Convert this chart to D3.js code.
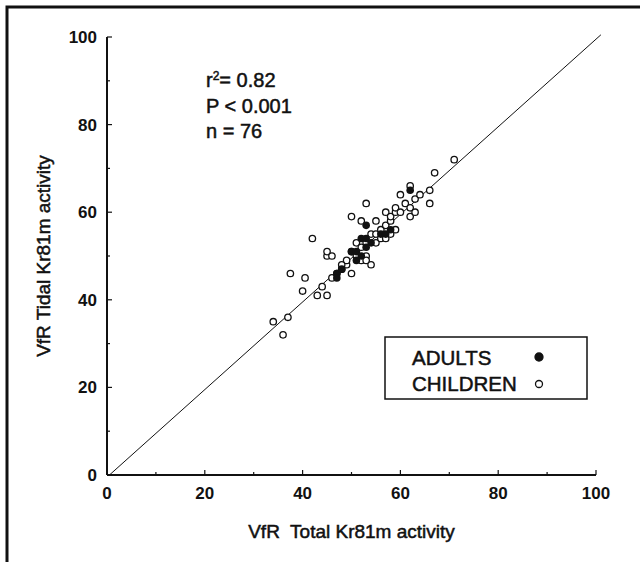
<!DOCTYPE html>
<html>
<head>
<meta charset="utf-8">
<script src="https://cdn.jsdelivr.net/npm/d3@7"></script>
<style>
  body { margin: 0; background: #fff; }
  svg { display: block; font-family: "Liberation Sans", Arial, sans-serif; }
  .tick-label { font-size: 17px; font-weight: bold; fill: #111; }
  .axis-title { font-size: 19px; fill: #111; stroke: #111; stroke-width: 0.5px; }
  .stat { font-size: 20px; fill: #111; stroke: #111; stroke-width: 0.5px; }
  .legend-text { font-size: 20.5px; fill: #111; stroke: #111; stroke-width: 0.5px; }
</style>
</head>
<body>
<div id="chart-area"></div>
<script>
// data: [total activity, tidal activity]
const children = [
  [34,35],[36,32],[37,36],[37.5,46],[40.5,45],[40,42],[42,54],[43,41],[44,43],[45,41],
  [45,50],[45,51],[46,45],[47,46],[48,47],[49,48],[49,49],[50,46],[50,51],[50,59],
  [51,50],[51,53],[52,49],[52,52],[52,58],[53,50],[53,53],[53,49],[53,62],[54,48],
  [54,55],[55,53],[55,55],[55,58],[56,56],[56,54],[57,57],[57,60],[58,58],[58,59],
  [59,56],[59,60],[59,61],[60,60],[60,64],[61,62],[62,61],[62,66],[62,59],[63,63],
  [63,60],[64,64],[66,65],[66,62],[67,69],[71,72],[57,54],[58,55],[48,48],[46,50]
]
const adults = [
  [47,46],[47,45],[48,47],[50,51],[51,51],[52,50],[52,54],[53,57],[53,54],[54,53],
  [56,55],[57,55],[58,56],[62,65],[53,52],[51,49]
]
const tickValues = [0, 20, 40, 60, 80, 100]
const minorTicks = [10, 30, 50, 70, 90]
const statLines = ["= 0.82", "P < 0.001", "n = 76"]
const legendItems = [{label: "ADULTS", filled: true}, {label: "CHILDREN", filled: false}]

const width = 640, height = 562
const margin = {left: 107, top: 37, right: 44, bottom: 87}

const svg = d3.select("#chart-area").append("svg")
  .attr("width", width).attr("height", height)

// outer frame (left and top edges of the scanned box)
svg.append("path")
  .attr("d", `M7,${height + 5}V7H${width + 5}`)
  .attr("fill", "none").attr("stroke", "#111").attr("stroke-width", 3)

const x = d3.scaleLinear().domain([0, 100]).range([margin.left, width - margin.right])
const y = d3.scaleLinear().domain([0, 100]).range([height - margin.bottom, margin.top])

// axes
const ax = svg.append("g")
ax.append("line").attr("x1", x(0)).attr("x2", x(100)).attr("y1", y(0)).attr("y2", y(0))
  .attr("stroke", "#111").attr("stroke-width", 2)
ax.append("line").attr("x1", x(0)).attr("x2", x(0)).attr("y1", y(0)).attr("y2", y(100))
  .attr("stroke", "#111").attr("stroke-width", 2)

tickValues.concat(minorTicks).forEach(d => {
  const len = minorTicks.includes(d) ? 3 : 5
  ax.append("line").attr("x1", x(d)).attr("x2", x(d)).attr("y1", y(0)).attr("y2", y(0) - len)
    .attr("stroke", "#111").attr("stroke-width", 1.2)
  ax.append("line").attr("x1", x(0)).attr("x2", x(0) + len).attr("y1", y(d)).attr("y2", y(d))
    .attr("stroke", "#111").attr("stroke-width", 1.2)
})

tickValues.forEach(d => {
  ax.append("text").attr("class", "tick-label")
    .attr("x", x(d)).attr("y", y(0) + 24)
    .attr("text-anchor", "middle").text(d)
  ax.append("text").attr("class", "tick-label")
    .attr("x", x(0) - 10).attr("y", y(d) + 6)
    .attr("text-anchor", "end").text(d)
})

svg.append("text").attr("class", "axis-title")
  .attr("x", x(50)).attr("y", y(0) + 63)
  .attr("text-anchor", "middle")
  .attr("xml:space", "preserve")
  .text("VfR  Total Kr81m activity")

svg.append("text").attr("class", "axis-title")
  .attr("transform", `translate(50,${y(50)}) rotate(-90)`)
  .attr("text-anchor", "middle")
  .text("VfR Tidal Kr81m activity")

// identity line
svg.append("line")
  .attr("x1", x(0.5)).attr("y1", y(0))
  .attr("x2", x(101)).attr("y2", y(100.5))
  .attr("stroke", "#111").attr("stroke-width", 1)

// stats
const st = svg.append("text").attr("class", "stat").attr("x", 206).attr("y", 87)
st.append("tspan").text("r")
st.append("tspan").attr("dy", -7).attr("font-size", 12).text("2")
st.append("tspan").attr("dy", 7).text(statLines[0])
statLines.slice(1).forEach((s, i) => {
  svg.append("text").attr("class", "stat").attr("x", 206).attr("y", 113 + i * 25).text(s)
})

// points
svg.append("g").selectAll("circle").data(children).join("circle")
  .attr("cx", d => x(d[0])).attr("cy", d => y(d[1])).attr("r", 3.2)
  .attr("fill", "#fff").attr("stroke", "#111").attr("stroke-width", 1.3)

svg.append("g").selectAll("circle").data(adults).join("circle")
  .attr("cx", d => x(d[0])).attr("cy", d => y(d[1])).attr("r", 3.8)
  .attr("fill", "#111")

// legend
const lg = svg.append("g")
lg.append("rect").attr("x", 385).attr("y", 337).attr("width", 202).attr("height", 62)
  .attr("fill", "#fff").attr("stroke", "#111").attr("stroke-width", 1.5)
legendItems.forEach((d, i) => {
  lg.append("text").attr("class", "legend-text")
    .attr("x", 412).attr("y", 365 + i * 26).text(d.label)
  lg.append("circle").attr("cx", 539).attr("cy", 357 + i * 27)
    .attr("r", d.filled ? 4 : 3.5)
    .attr("fill", d.filled ? "#111" : "#fff").attr("stroke", "#111").attr("stroke-width", 1.3)
})
</script>
</body>
</html>
